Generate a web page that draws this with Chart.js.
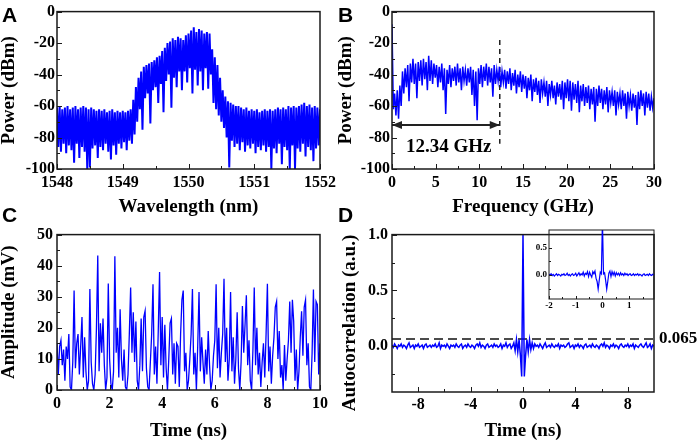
<!DOCTYPE html>
<html>
<head>
<meta charset="utf-8">
<script src="https://cdn.jsdelivr.net/npm/chart.js@4.4.0/dist/chart.umd.min.js"></script>
<style>
body{margin:0;background:#fff;}
#wrap{position:relative;width:699px;height:442px;overflow:hidden;background:#fff;}
canvas{position:absolute;}
.lab{position:absolute;font:bold 21px "Liberation Sans",Arial,sans-serif;line-height:21px;color:#000;}
</style>
</head>
<body>
<div id="wrap">
<canvas id="cA" width="349" height="221" style="left:0;top:0"></canvas>
<canvas id="cB" width="362" height="221" style="left:337px;top:0"></canvas>
<canvas id="cC" width="349" height="221" style="left:0;top:221px"></canvas>
<canvas id="cD" width="360" height="221" style="left:339px;top:221px"></canvas>
<canvas id="cI" width="140" height="95" style="left:520px;top:221px"></canvas>
<div class="lab" style="left:2px;top:4px">A</div>
<div class="lab" style="left:338px;top:4px">B</div>
<div class="lab" style="left:2px;top:204px">C</div>
<div class="lab" style="left:338px;top:204px">D</div>
</div>
<script>
// A: optical spectrum, sampled every 0.02 nm from 1548 nm
const waveStart=1548, waveStep=0.02;
const specA=[
 -61,-86,-60,-89,-62,-84,-61,-90,-60,-85,
 -62,-88,-61,-96,-60,-84,-62,-93,-61,-86,
 -60,-89,-61,-100,-62,-99,-61,-87,-62,-85,
 -63,-93,-62,-86,-63,-88,-62,-84,-64,-89,
 -63,-94,-62,-85,-64,-91,-63,-84,-64,-87,
 -63,-83,-64,-88,-63,-82,-62,-84,-56,-78,
 -48,-70,-42,-62,-38,-75,-35,-55,-34,-52,
 -33,-71,-32,-50,-31,-48,-29,-58,-28,-46,
 -25,-64,-23,-44,-20,-40,-19,-61,-17,-42,
 -18,-48,-16,-38,-17,-50,-18,-38,-15,-45,
 -14,-36,-12,-52,-10,-37,-13,-47,-11,-38,
 -12,-50,-14,-36,-13,-49,-14,-40,-24,-58,
 -29,-62,-34,-66,-42,-70,-50,-74,-54,-80,
 -57,-99,-58,-82,-59,-86,-60,-84,-60,-88,
 -61,-83,-62,-89,-61,-85,-63,-87,-62,-84,
 -63,-90,-62,-86,-64,-88,-63,-85,-62,-89,
 -63,-86,-62,-100,-63,-87,-62,-90,-61,-84,
 -62,-97,-61,-86,-62,-88,-60,-100,-61,-85,
 -60,-100,-61,-87,-60,-89,-59,-84,-58,-92,
 -60,-86,-59,-88,-61,-95,-60,-87,-61,-85,
 -62];
const ticksAx=[1548,1549,1550,1551,1552], minorAx=[1548.5,1549.5,1550.5,1551.5];
const ticksPow=[-100,-80,-60,-40,-20,0], minorPow=[-90,-70,-50,-30,-10];

// B: RF spectrum, sampled every 0.15 GHz from 0
const freqStep=0.15;
const specB=[
 -8,-62,-52,-66,-50,-68,-47,-60,-38,-52,
 -36,-48,-34,-57,-33,-45,-30,-46,-33,-55,
 -32,-44,-31,-47,-30,-43,-32,-50,-28,-44,
 -31,-46,-33,-42,-34,-48,-35,-45,-33,-50,
 -36,-65,-37,-46,-34,-48,-36,-44,-35,-47,
 -33,-45,-36,-50,-35,-44,-37,-47,-36,-45,
 -35,-53,-37,-60,-38,-69,-36,-46,-34,-48,
 -35,-44,-33,-47,-35,-45,-36,-54,-34,-46,
 -37,-44,-35,-48,-38,-45,-37,-49,-38,-46,
 -36,-50,-39,-47,-37,-52,-40,-48,-38,-51,
 -40,-49,-41,-55,-42,-50,-40,-57,-43,-51,
 -42,-53,-44,-58,-43,-52,-45,-54,-44,-60,
 -46,-53,-44,-55,-47,-59,-45,-54,-46,-56,
 -44,-62,-45,-55,-43,-57,-44,-63,-45,-56,
 -46,-58,-44,-64,-47,-57,-46,-60,-48,-58,
 -47,-62,-49,-59,-48,-70,-49,-60,-47,-58,
 -49,-62,-50,-59,-48,-64,-50,-58,-51,-60,
 -50,-66,-51,-59,-52,-62,-50,-60,-52,-68,
 -51,-60,-53,-63,-52,-61,-53,-72,-51,-62,
 -50,-60,-52,-66,-51,-61,-52,-63,-54,-61,
 -55];
const ticksFreq=[0,5,10,15,20,25,30], minorFreq=[2.5,7.5,12.5,17.5,22.5,27.5];
const bwMark=12.34, bwTop=-18, bwBottom=-84, arrowLevel=-72;
const bwLabel='12.34 GHz', bwLabelX=6.5, bwLabelY=-86;

// C: time series, sampled every 0.05 ns
const timeStepC=0.05;
const ampC=[
 15,5,14,16,8,13,3,14,10,18,
 1,0,9,32,7,15,18,5,14,23.5,
 4,17,6,0,3,32.5,9,2,0,5,
 20,43.3,6,21.5,12,23,8,0,4,34.3,
 10,2,0,6,43,12,20,4,26,10,
 3,13,1,0,5,18,33,12,25,9,
 22,3,0,8,23,6,23.5,25.5,7,1,
 0,9,18,34,5,14,2,19,38,8,
 23.5,4,21,7,0,10,21.5,23,5,15,
 2,15,14,1,18,29,32,6,12,0,
 3,10,18,32.5,5,12,0,14,31.5,6,
 17,9,2,13,5,19,8,0,3,11,
 16,34,7,20,4,12,18,35.8,9,20,
 3,10,31.5,6,17,2,10,25,7,0,
 9,27,12,21,30.5,8,16,3,0,13,
 33,8,20,5,12,1,9,15,4,18,
 34.2,6,14,2,11,17,26.7,28.5,10,19,
 4,8,0,14.5,3,10,16,28.5,12,29,
 22,3,13,0,6,17,25.3,11,26.7,29,
 8,15,1,0,12,32.3,9,28.5,27.5,5,
 15];
const ticksTime=[0,2,4,6,8,10], minorTime=[1,3,5,7,9];
const ticksAmp=[0,10,20,30,40,50], minorAmp=[5,15,25,35,45];

// D: autocorrelation, sampled every 0.1 ns from -10 ns
const lagStartD=-10, lagStepD=0.1;
const corrD=[
 0.01,-0.01,0.02,0.00,-0.02,0.01,0.00,0.02,-0.01,0.01,
 0.00,-0.02,0.01,0.03,-0.01,0.00,0.01,-0.02,0.01,0.00,
 0.02,-0.01,0.00,0.01,-0.02,0.01,0.02,-0.01,0.00,0.01,
 -0.01,0.01,0.00,0.02,-0.01,0.00,0.03,-0.02,0.01,0.00,
 0.01,-0.01,0.02,0.00,-0.02,0.01,0.00,0.01,-0.01,0.02,
 0.00,-0.01,0.01,0.02,-0.02,0.00,0.01,-0.01,0.02,0.00,
 -0.01,0.01,0.00,-0.02,0.01,0.02,0.00,0.03,-0.01,0.01,
 0.00,-0.02,0.01,0.02,-0.01,0.00,0.01,-0.01,0.02,0.00,
 0.01,-0.01,0.00,0.02,-0.02,0.01,0.00,0.03,-0.01,0.01,
 0.02,-0.02,0.00,0.03,-0.04,0.06,-0.05,0.06,-0.08,-0.27,
 1.00,
 -0.27,-0.08,0.06,-0.05,0.06,-0.03,0.03,-0.02,0.02,0.00,
 0.01,-0.01,0.02,0.00,-0.02,0.01,0.03,-0.01,0.00,0.01,
 -0.01,0.02,0.00,-0.01,0.01,0.00,0.02,-0.02,0.01,0.00,
 0.01,-0.01,0.00,0.02,0.03,-0.01,0.00,0.01,-0.02,0.01,
 0.00,0.02,-0.01,0.01,0.00,-0.02,0.01,0.02,-0.01,0.00,
 0.01,-0.01,0.02,0.00,-0.01,0.01,0.00,-0.02,0.01,0.02,
 0.00,0.03,-0.01,0.01,0.00,-0.02,0.01,0.00,0.02,-0.01,
 0.01,0.00,-0.02,0.01,0.02,0.00,-0.01,0.01,0.00,0.02,
 -0.01,0.01,0.00,0.02,-0.02,0.01,0.00,-0.01,0.01,0.02,
 0.00,-0.01,0.01,0.03,-0.01,0.00,0.02,-0.02,0.01,0.00];
const ticksLag=[-8,-4,0,4,8], minorLag=[-6,-2,2,6];
const ticksCorr=[0,0.5,1], minorCorr=[-0.25,0.25,0.75];
const threshold=0.065, thresholdLabel='0.065';

// D inset: zoom of the central lags, sampled every 0.04 ns from -2 ns
const lagStartIn=-2, lagStepIn=0.04;
const corrIn=[
 0.01,0.00,0.02,-0.01,0.01,-0.02,0.00,0.02,-0.01,0.01,
 0.00,-0.02,0.01,0.00,0.02,-0.01,0.00,0.03,-0.01,0.01,
 -0.02,0.01,0.02,-0.01,0.00,0.03,-0.02,0.01,0.04,-0.01,
 0.02,0.00,0.05,-0.02,0.03,0.01,0.06,-0.03,0.05,0.00,
 -0.04,0.06,0.02,0.07,-0.06,-0.12,-0.26,-0.10,0.05,0.02,
 1.00,0.02,0.04,-0.10,-0.26,-0.12,0.03,0.07,-0.03,0.06,
 0.00,0.05,-0.02,0.04,0.00,0.03,-0.01,0.04,0.00,0.02,
 -0.01,0.03,0.00,0.02,-0.01,0.01,0.02,-0.01,0.00,0.02,
 -0.01,0.01,0.00,0.02,-0.01,0.01,0.00,-0.02,0.01,0.02,
 -0.01,0.00,0.01,-0.01,0.02,0.00,-0.01,0.01,0.00];
const ticksInX=[-2,-1,0,1], minorInX=[-1.5,-0.5,0.5,1.5];
const ticksInY=[0,0.5], minorInY=[-0.25,0.25];

const serif='"Liberation Serif","Times New Roman",serif';
const BLUE='#0000ff';

const pts=(arr,x0,dx)=>arr.map((v,i)=>({x:x0+i*dx,y:v}));

// inward ticks on left/bottom and a closed frame
const frameTicks={
  id:'frameTicks',
  afterDraw(chart,args,o){
    const {ctx,chartArea:a}=chart, x=chart.scales.x, y=chart.scales.y;
    ctx.save();
    ctx.strokeStyle='#1a1a1a';
    ctx.lineWidth=o.lw;
    ctx.strokeRect(a.left,a.top,a.right-a.left,a.bottom-a.top);
    ctx.lineWidth=1;
    ctx.beginPath();
    const tx=(vals,len)=>vals.forEach(v=>{const p=Math.round(x.getPixelForValue(v))+0.5;ctx.moveTo(p,a.bottom);ctx.lineTo(p,a.bottom-len);});
    const ty=(vals,len)=>vals.forEach(v=>{const p=Math.round(y.getPixelForValue(v))+0.5;ctx.moveTo(a.left,p);ctx.lineTo(a.left+len,p);});
    tx(o.xMajor,o.major);tx(o.xMinor,o.minor);
    ty(o.yMajor,o.major);ty(o.yMinor,o.minor);
    ctx.stroke();
    ctx.restore();
  }
};

function scale(o){
  return {
    type:'linear',min:o.min,max:o.max,
    afterBuildTicks:s=>{s.ticks=o.ticks.map(v=>({value:v}));},
    afterFit:s=>{if(o.w!=null)s.width=o.w;if(o.h!=null)s.height=o.h;},
    grid:{display:false,drawTicks:false},
    border:{display:false},
    ticks:{color:'#000',padding:o.pad,autoSkip:false,maxRotation:0,
      font:{family:serif,weight:'bold',size:o.fs||16},
      callback:o.fmt||(v=>String(v))},
    title:{display:!!o.title,text:o.title,color:'#000',
      font:{family:serif,weight:'bold',size:19,lineHeight:o.tlh||1.2},
      padding:o.tpad||0}
  };
}

function trace(data,w){
  return {data:data,borderColor:BLUE,borderWidth:w||1,pointRadius:0,tension:0,fill:false,borderJoinStyle:'miter'};
}

function make(id,datasets,xs,ys,pad,frame,extra){
  return new Chart(document.getElementById(id),{
    type:'line',
    data:{datasets:datasets},
    options:{
      responsive:false,animation:false,devicePixelRatio:1,
      layout:{padding:pad},
      plugins:{legend:{display:false},tooltip:{enabled:false},frameTicks:frame},
      scales:{x:scale(xs),y:scale(ys)}
    },
    plugins:[frameTicks].concat(extra||[])
  });
}

// A
make('cA',[trace(pts(specA,waveStart,waveStep),2)],
  {min:1548,max:1552,ticks:ticksAx,h:52,pad:4,title:'Wavelength (nm)',tpad:{bottom:3,top:0}},
  {min:-100,max:0,ticks:ticksPow,w:57,pad:2,title:'Power (dBm)',tlh:1,tpad:{top:0,bottom:0}},
  {left:0,top:9,right:29,bottom:0},
  {lw:1.5,major:5,minor:3,xMajor:ticksAx,xMinor:minorAx,yMajor:ticksPow,yMinor:minorPow});

// B
const bwNote={
  id:'bwNote',
  afterDatasetsDraw(chart){
    const {ctx}=chart, x=chart.scales.x, y=chart.scales.y;
    const x0=x.getPixelForValue(0), x1=x.getPixelForValue(bwMark), yy=y.getPixelForValue(arrowLevel);
    ctx.save();
    ctx.fillStyle='#222';
    ctx.beginPath();ctx.moveTo(x0,yy);ctx.lineTo(x0+10,yy-4);ctx.lineTo(x0+10,yy+4);ctx.closePath();ctx.fill();
    ctx.beginPath();ctx.moveTo(x1,yy);ctx.lineTo(x1-10,yy-4);ctx.lineTo(x1-10,yy+4);ctx.closePath();ctx.fill();
    ctx.fillStyle='#000';
    ctx.font='bold 19px '+serif;ctx.textAlign='center';ctx.textBaseline='middle';
    ctx.fillText(bwLabel,x.getPixelForValue(bwLabelX),y.getPixelForValue(bwLabelY));
    ctx.restore();
  }
};
make('cB',[
  trace(pts(specB,0,freqStep),1.5),
  {data:[{x:bwMark,y:bwTop},{x:bwMark,y:bwBottom}],borderColor:'#222',borderWidth:1.5,borderDash:[5,4],pointRadius:0},
  {data:[{x:0,y:arrowLevel},{x:bwMark,y:arrowLevel}],borderColor:'#222',borderWidth:2,pointRadius:0}
 ],
  {min:0,max:30,ticks:ticksFreq,h:52,pad:4,title:'Frequency (GHz)',tpad:{bottom:3,top:0}},
  {min:-100,max:0,ticks:ticksPow,w:55,pad:2,title:'Power (dBm)',tlh:1,tpad:{top:0,bottom:0}},
  {left:0,top:9,right:45,bottom:0},
  {lw:1.5,major:5,minor:3,xMajor:ticksFreq,xMinor:minorFreq,yMajor:ticksPow,yMinor:minorPow},
  [bwNote]);

// C
make('cC',[trace(pts(ampC,0,timeStepC),1.3)],
  {min:0,max:10,ticks:ticksTime,h:52,pad:4,title:'Time (ns)',tpad:{bottom:0,top:0}},
  {min:0,max:50,ticks:ticksAmp,w:57,pad:4,title:'Amplitude (mV)',tlh:1,tpad:{top:0,bottom:0}},
  {left:0,top:9,right:29,bottom:0},
  {lw:1.5,major:5,minor:3,xMajor:ticksTime,xMinor:minorTime,yMajor:ticksAmp,yMinor:minorAmp});

// D
const dNote={
  id:'dNote',
  afterDraw(chart){
    const {ctx,chartArea:a}=chart, y=chart.scales.y;
    ctx.save();
    ctx.fillStyle='#000';
    ctx.font='bold 17px '+serif;ctx.textAlign='left';ctx.textBaseline='middle';
    ctx.fillText(thresholdLabel,a.right+5,y.getPixelForValue(threshold));
    ctx.translate(11,102);ctx.rotate(-Math.PI/2);
    ctx.font='bold 19px '+serif;ctx.textAlign='center';
    ctx.fillText('Autocorrelation (a.u.)',0,0);
    ctx.restore();
  }
};
make('cD',[
  trace(pts(corrD,lagStartD,lagStepD),1.5),
  {data:[{x:-10,y:threshold},{x:10,y:threshold}],borderColor:'#111',borderWidth:1.5,borderDash:[9,5],pointRadius:0}
 ],
  {min:-10,max:10,ticks:ticksLag,h:50,pad:3,title:'Time (ns)',tpad:{bottom:0,top:0}},
  {min:-0.41,max:1,ticks:ticksCorr,w:53,pad:4,fmt:v=>v.toFixed(1)},
  {left:0,top:9,right:45,bottom:0},
  {lw:1.5,major:5,minor:3,xMajor:ticksLag,xMinor:minorLag,yMajor:ticksCorr,yMinor:minorCorr},
  [dNote]);

// D inset
make('cI',[trace(pts(corrIn,lagStartIn,lagStepIn),1.2)],
  {min:-2,max:1.93,ticks:ticksInX,h:17,pad:1,fs:9},
  {min:-0.44,max:0.82,ticks:ticksInY,w:29,pad:2,fs:9,fmt:v=>v.toFixed(1)},
  {left:0,top:9,right:6,bottom:0},
  {lw:1,major:3,minor:2,xMajor:ticksInX,xMinor:minorInX,yMajor:ticksInY,yMinor:minorInY});
</script>
</body>
</html>
